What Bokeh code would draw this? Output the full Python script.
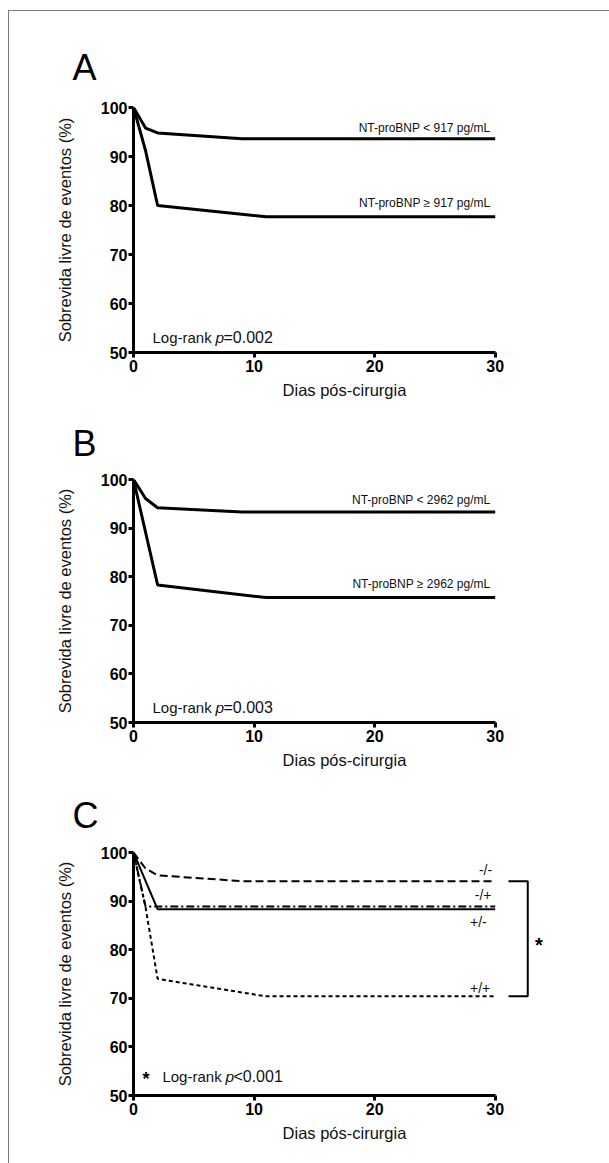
from bokeh.plotting import figure
from bokeh.models import Range1d, Label, FixedTicker, Title
from bokeh.layouts import column
from bokeh.embed import file_html
from bokeh.resources import INLINE

# ---------------- data ----------------
x_ticks = [0, 10, 20, 30]
y_ticks = [50, 60, 70, 80, 90, 100]

# Panel A
a_low_days = [0, 1, 2, 9, 30]
a_low_surv = [100, 95.8, 94.8, 93.6, 93.6]
a_high_days = [0, 1, 2, 11, 30]
a_high_surv = [100, 91.2, 80.0, 77.7, 77.7]
a_labels = ["NT-proBNP < 917 pg/mL", "NT-proBNP \u2265 917 pg/mL"]
a_p = "=0.002"

# Panel B
b_low_days = [0, 1, 2, 9, 30]
b_low_surv = [100, 96.1, 94.2, 93.3, 93.3]
b_high_days = [0, 2, 11, 30]
b_high_surv = [100, 78.3, 75.7, 75.7]
b_labels = ["NT-proBNP < 2962 pg/mL", "NT-proBNP \u2265 2962 pg/mL"]
b_p = "=0.003"

# Panel C
c_mm_days = [0, 1, 2, 9, 30]
c_mm_surv = [100, 96.7, 95.3, 94.1, 94.1]
c_mp_days = [0, 1, 30]
c_mp_surv = [100, 88.9, 88.9]
c_pm_days = [0, 2, 30]
c_pm_surv = [100, 88.3, 88.3]
c_pp_days = [0, 1, 2, 11, 30]
c_pp_surv = [100, 88.7, 74.0, 70.4, 70.4]
c_group_labels = ["-/-", "-/+", "+/-", "+/+"]
c_p = "<0.001"

FONT = "Liberation Sans"


def make_panel(letter, top_border, frame_h, bottom_border, letter_standoff):
    p = figure(
        frame_width=422, frame_height=frame_h,
        min_border_left=124, min_border_right=54,
        min_border_top=top_border, min_border_bottom=bottom_border,
        x_range=Range1d(0, 35), y_range=Range1d(50, 100),
        toolbar_location=None, output_backend="svg", title=None,
        background_fill_color="white", border_fill_color="white",
    )
    p.outline_line_color = None
    p.grid.visible = False
    for ax in (p.xaxis[0], p.yaxis[0]):
        ax.axis_line_width = 3
        ax.axis_line_color = "black"
        ax.major_tick_line_width = 3
        ax.major_tick_line_color = "black"
        ax.major_tick_out = 5
        ax.major_tick_in = 0
        ax.minor_tick_line_color = None
        ax.major_label_text_font = FONT
        ax.major_label_text_font_style = "bold"
        ax.major_label_text_font_size = "16px"
        ax.major_label_text_color = "black"
        ax.axis_label_text_font = FONT
        ax.axis_label_text_font_style = "normal"
        ax.axis_label_text_font_size = "16.5px"
        ax.axis_label_text_color = "#111111"
    p.xaxis[0].ticker = FixedTicker(ticks=x_ticks)
    p.xaxis[0].bounds = (0, 30)
    p.xaxis[0].major_label_standoff = 2
    p.xaxis[0].axis_label = "Dias pós-cirurgia"
    p.xaxis[0].axis_label_standoff = 6
    p.yaxis[0].ticker = FixedTicker(ticks=y_ticks)
    p.yaxis[0].major_label_standoff = 1
    p.yaxis[0].axis_label = "Sobrevida livre de eventos (%)"
    p.yaxis[0].axis_label_standoff = 24
    p.add_layout(Title(text=letter, align="left", offset=-61, standoff=letter_standoff,
                       vertical_align="top",
                       text_font=FONT, text_font_size="36px", text_font_style="normal",
                       text_color="black"), "above")
    return p


def add_pvalue(p, x, y, ptext):
    common = dict(x=x, y=y, text_font=FONT, text_baseline="middle",
                  text_align="left", text_color="#111111")
    p.add_layout(Label(text="Log-rank", text_font_size="15px", **common))
    p.add_layout(Label(text="p", x_offset=63, text_font_style="italic",
                       text_font_size="15.5px", **common))
    p.add_layout(Label(text=ptext, x_offset=71, text_font_size="16px", **common))


def add_group_label(p, x, y, text, align="right", size="12px"):
    p.add_layout(Label(x=x, y=y, text=text, text_font=FONT, text_font_size=size,
                       text_baseline="middle", text_align=align, text_color="#111111"))


# ---------------- Panel A ----------------
pa = make_panel("A", 96, 245, 52, 35)
pa.line(a_low_days, a_low_surv, line_width=3, color="black")
pa.line(a_high_days, a_high_surv, line_width=3, color="black")
add_group_label(pa, 29.6, 95.9, a_labels[0])
add_group_label(pa, 29.6, 80.6, a_labels[1])
add_pvalue(pa, 1.575, 53.1, a_p)

# ---------------- Panel B ----------------
pb = make_panel("B", 75, 243, 52, 27)
pb.line(b_low_days, b_low_surv, line_width=3, color="black")
pb.line(b_high_days, b_high_surv, line_width=3, color="black")
add_group_label(pb, 29.6, 95.7, b_labels[0])
add_group_label(pb, 29.6, 78.6, b_labels[1])
add_pvalue(pb, 1.575, 53.1, b_p)

# ---------------- Panel C ----------------
pc = make_panel("C", 78, 243, 68, 30)
pc.line(c_mm_days, c_mm_surv, line_width=2, color="black", line_dash="8 4")
pc.line(c_mp_days, c_mp_surv, line_width=2, color="black", line_dash="8 3 2 3")
pc.line(c_pm_days, c_pm_surv, line_width=2, color="black")
pc.line(c_pp_days, c_pp_surv, line_width=2, color="black", line_dash="4 3")
add_group_label(pc, 29.2, 96.3, c_group_labels[0], align="center", size="14px")
add_group_label(pc, 29.0, 91.2, c_group_labels[1], align="center", size="14px")
add_group_label(pc, 28.6, 85.6, c_group_labels[2], align="center", size="14px")
add_group_label(pc, 28.75, 72.2, c_group_labels[3], align="center", size="14px")

# significance bracket between -/- and +/+
bx0, bx1 = 31.1, 32.7
top_y = c_mm_surv[-1]
bot_y = c_pp_surv[-1]
pc.line([bx0, bx1, bx1, bx0], [top_y, top_y, bot_y, bot_y], line_width=2, color="black")
pc.add_layout(Label(x=33.3, y=81.0, text="*", text_font=FONT, text_font_size="20px",
                    text_font_style="bold", text_baseline="middle", text_align="left",
                    text_color="black"))
pc.add_layout(Label(x=0.75, y=53.4, text="*", text_font=FONT, text_font_size="18px",
                    text_font_style="bold", text_baseline="middle", text_align="left",
                    text_color="black"))
add_pvalue(pc, 2.4, 54.0, c_p)

layout = column(pa, pb, pc, margin=(10, 0, 0, 8), spacing=0,
                styles={"border-top": "1px solid #7a7a7a", "border-left": "1px solid #7a7a7a"})

open("out.html", "w").write(file_html(layout, INLINE))
